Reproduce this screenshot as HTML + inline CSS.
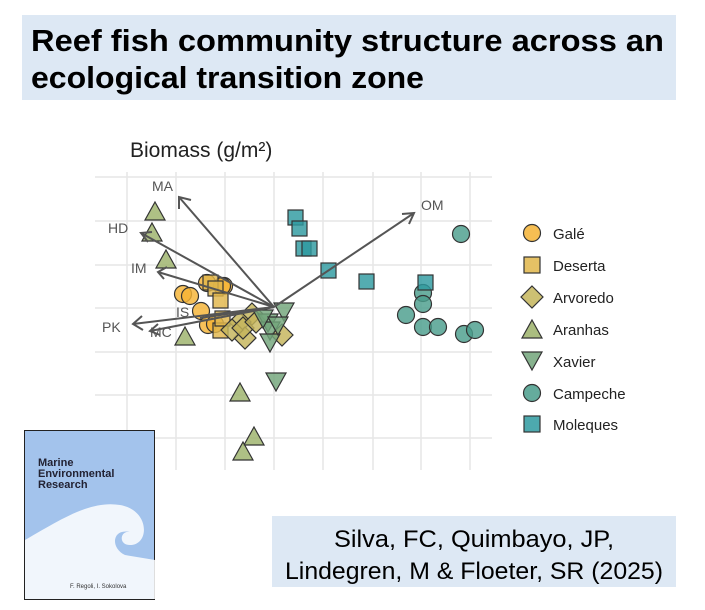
<!DOCTYPE html>
<html><head><meta charset="utf-8"><style>
body{margin:0;width:705px;height:605px;background:#fff;overflow:hidden;font-family:"Liberation Sans",sans-serif}
</style></head><body>
<svg width="705" height="605" viewBox="0 0 705 605" xmlns="http://www.w3.org/2000/svg">
<rect x="22" y="15" width="654" height="85" fill="#dde8f4"/>
<text x="31" y="51" font-size="31" font-weight="bold" fill="#000" textLength="633" lengthAdjust="spacingAndGlyphs">Reef fish community structure across an</text>
<text x="31" y="88" font-size="31" font-weight="bold" fill="#000" textLength="393" lengthAdjust="spacingAndGlyphs">ecological transition zone</text>
<text x="130" y="157" font-size="21" fill="#222">Biomass (g/m²)</text>
<g stroke="#e6e6e6" stroke-width="1.5">
<line x1="127" y1="172" x2="127" y2="470"/><line x1="176" y1="172" x2="176" y2="470"/><line x1="225" y1="172" x2="225" y2="470"/><line x1="274" y1="172" x2="274" y2="470"/><line x1="323" y1="172" x2="323" y2="470"/><line x1="373" y1="172" x2="373" y2="470"/><line x1="421" y1="172" x2="421" y2="470"/><line x1="470" y1="172" x2="470" y2="470"/>
<line x1="95" y1="177" x2="492" y2="177"/><line x1="95" y1="221" x2="492" y2="221"/><line x1="95" y1="265" x2="492" y2="265"/><line x1="95" y1="308" x2="492" y2="308"/><line x1="95" y1="352" x2="492" y2="352"/><line x1="95" y1="395" x2="492" y2="395"/><line x1="95" y1="438" x2="492" y2="438"/>
</g>
<defs>
<path id="tu" d="M0,-10 L10,8 L-10,8 Z"/>
<path id="td" d="M0,10 L10,-8 L-10,-8 Z"/>
<path id="dm" d="M0,-11 L11,0 L0,11 L-11,0 Z"/>
</defs>
<g stroke="#333" stroke-width="1.2" fill-opacity="0.82">
<g fill="#4a9e8c">
<circle cx="461" cy="234" r="8.5"/><circle cx="423" cy="293" r="8.5"/><circle cx="423" cy="304" r="8.5"/><circle cx="406" cy="315" r="8.5"/><circle cx="423" cy="327" r="8.5"/><circle cx="438" cy="327" r="8.5"/><circle cx="464" cy="334" r="8.5"/><circle cx="475" cy="330" r="8.5"/>
</g>
<g fill="#2e9aa0">
<rect x="288" y="210" width="15" height="15"/><rect x="292" y="221" width="15" height="15"/><rect x="296" y="241" width="15" height="15"/><rect x="302" y="241" width="15" height="15"/><rect x="321" y="263" width="15" height="15"/><rect x="359" y="274" width="15" height="15"/><rect x="418" y="275" width="15" height="15"/>
</g>
<g fill="#9cb26a">
<use href="#tu" x="155" y="212"/><use href="#tu" x="152" y="233"/><use href="#tu" x="166" y="260"/><use href="#tu" x="185" y="337"/><use href="#tu" x="240" y="393"/><use href="#tu" x="254" y="437"/><use href="#tu" x="243" y="452"/>
</g>
<g fill="#f5b335">
<circle cx="207" cy="283" r="8.5"/><circle cx="224" cy="286" r="8.5"/><circle cx="183" cy="294" r="8.5"/><circle cx="190" cy="296" r="8.5"/><circle cx="201" cy="311" r="8.5"/><circle cx="208" cy="325" r="8.5"/><circle cx="215" cy="324" r="8.5"/><circle cx="222" cy="286" r="8.5"/>
</g>
<g fill="#e0b64a">
<rect x="203" y="275" width="15" height="15"/><rect x="208" y="281" width="15" height="15"/><rect x="213" y="293" width="15" height="15"/><rect x="213" y="323" width="15" height="15"/><rect x="215" y="311" width="15" height="15"/>
</g>
<g fill="#c4b55a">
<use href="#dm" x="252" y="314"/><use href="#dm" x="240" y="322"/><use href="#dm" x="245" y="338"/><use href="#dm" x="232" y="330"/><use href="#dm" x="282" y="335"/><use href="#dm" x="243" y="328"/><use href="#dm" x="256" y="322"/>
</g>
<g fill="#72a57a">
<use href="#td" x="284" y="311"/><use href="#td" x="268" y="322"/><use href="#td" x="270" y="330"/><use href="#td" x="270" y="342"/><use href="#td" x="276" y="381"/><use href="#td" x="263" y="318"/><use href="#td" x="278" y="325"/>
</g>
</g>
<g stroke="#555" stroke-width="2" fill="none">
<line x1="274" y1="307" x2="179" y2="197"/><polyline points="179,209 179,197 191,200"/>
<line x1="274" y1="307" x2="141" y2="233"/><polyline points="148,242 141,233 152,232"/>
<line x1="274" y1="307" x2="158" y2="272"/><polyline points="164,279 158,272 167,267"/>
<line x1="274" y1="307" x2="133" y2="324"/><polyline points="143,330 133,324 142,316"/>
<line x1="274" y1="307" x2="150" y2="331"/><polyline points="160,335 150,331 158,324"/>
<line x1="274" y1="307" x2="200" y2="318"/>
<line x1="274" y1="307" x2="414" y2="213"/><polyline points="402,214 414,213 409,224"/>
</g>
<g font-size="14" fill="#555">
<text x="152" y="191">MA</text><text x="108" y="233">HD</text><text x="131" y="273">IM</text><text x="176" y="317">IS</text><text x="102" y="332">PK</text><text x="150" y="337">MC</text><text x="421" y="210">OM</text>
</g>
<g stroke="#333" stroke-width="1.2" fill-opacity="0.85">
<circle cx="532" cy="233" r="8.5" fill="#f5b335"/>
<rect x="524" y="257" width="16" height="16" fill="#e0b64a"/>
<use href="#dm" x="532" y="297" fill="#c4b55a"/>
<use href="#tu" x="532" y="330" fill="#9cb26a"/>
<use href="#td" x="532" y="360" fill="#72a57a"/>
<circle cx="532" cy="393" r="8.5" fill="#4a9e8c"/>
<rect x="524" y="416" width="16" height="16" fill="#2e9aa0"/>
</g>
<g font-size="15" fill="#222">
<text x="553" y="239">Galé</text><text x="553" y="271">Deserta</text><text x="553" y="303">Arvoredo</text><text x="553" y="335">Aranhas</text><text x="553" y="367">Xavier</text><text x="553" y="399">Campeche</text><text x="553" y="430">Moleques</text>
</g>
<rect x="24.5" y="430.5" width="130" height="169" fill="#a3c3ec" stroke="#222"/>
<path d="M25,540 C60,520 90,500 120,505 C150,510 150,545 130,545 C118,545 120,530 130,532 C112,528 110,548 125,555 L155,560 L155,599 L25,599 Z" fill="#fff" opacity="0.85"/>
<text x="38" y="466" font-size="11" font-weight="bold" fill="#223">Marine</text>
<text x="38" y="477" font-size="11" font-weight="bold" fill="#223">Environmental</text>
<text x="38" y="488" font-size="11" font-weight="bold" fill="#223">Research</text>
<text x="70" y="588" font-size="6" fill="#333">F. Regoli, I. Sokolova</text>
<rect x="272" y="516" width="404" height="71" fill="#dde8f4"/>
<text x="474" y="547" font-size="24" text-anchor="middle" fill="#000" textLength="280" lengthAdjust="spacingAndGlyphs">Silva, FC, Quimbayo, JP,</text>
<text x="474" y="579" font-size="24" text-anchor="middle" fill="#000" textLength="378" lengthAdjust="spacingAndGlyphs">Lindegren, M &amp; Floeter, SR (2025)</text>
</svg>
</body></html>
